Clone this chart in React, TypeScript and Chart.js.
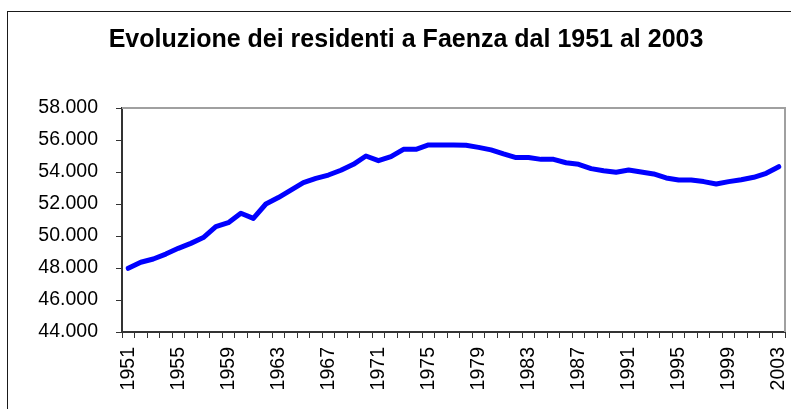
import React, { useEffect, useRef } from "react";
import { Chart, registerables } from "chart.js";

Chart.register(...registerables);

const years: string[] = [];
for (let y = 1951; y <= 2003; y++) years.push(String(y));

const residents: number[] = [
  47980, 48360, 48560, 48870, 49230, 49540, 49900, 50580, 50830, 51420,
  51100, 52000, 52400, 52870, 53330, 53600, 53810, 54110, 54480, 55000,
  54710, 54960, 55420, 55420, 55690, 55690, 55690, 55670, 55540, 55380,
  55130, 54900, 54900, 54790, 54790, 54580, 54480, 54210, 54080, 53980,
  54120, 54000, 53880, 53630, 53500, 53500, 53400, 53250, 53400, 53520,
  53670, 53920, 54330,
];

const titleText = "Evoluzione dei residenti a Faenza dal 1951 al 2003";
const yMin = 44000;
const yMax = 58000;
const yStep = 2000;

function formatThousands(v: number): string {
  const s = Math.round(v).toString();
  return s.replace(/\B(?=(\d{3})+(?!\d))/g, ".");
}

const framePlugin = {
  id: "framePlugin",
  beforeDraw(chart: any) {
    const ctx = chart.ctx;
    ctx.save();
    ctx.fillStyle = "#ffffff";
    ctx.fillRect(0, 0, chart.width, chart.height);
    ctx.strokeStyle = "#1a1a1a";
    ctx.lineWidth = 1;
    ctx.strokeRect(7.5, 11.5, 1000, 1000);
    ctx.fillStyle = "#000000";
    ctx.font = 'bold 25px "Liberation Sans", Arial, sans-serif';
    ctx.textAlign = "center";
    ctx.textBaseline = "alphabetic";
    ctx.fillText(titleText, 406, 47);
    ctx.restore();
  },
  afterDraw(chart: any) {
    const { ctx, chartArea } = chart;
    ctx.save();
    ctx.strokeStyle = "#a0a0a0";
    ctx.lineWidth = 2;
    ctx.beginPath();
    ctx.moveTo(chartArea.left, chartArea.top);
    ctx.lineTo(chartArea.right, chartArea.top);
    ctx.lineTo(chartArea.right, chartArea.bottom);
    ctx.stroke();
    ctx.restore();
  },
};

export default function App() {
  const ref = useRef<HTMLCanvasElement | null>(null);

  useEffect(() => {
    if (!ref.current) return;
    const chart = new Chart(ref.current, {
      type: "line",
      data: {
        labels: years,
        datasets: [
          {
            data: residents,
            borderColor: "#0000ff",
            backgroundColor: "#0000ff",
            borderWidth: 5,
            pointRadius: 0,
            tension: 0,
            borderCapStyle: "round",
            borderJoinStyle: "round",
            fill: false,
          },
        ],
      },
      options: {
        responsive: false,
        animation: false,
        layout: { padding: { top: 108, right: 6, left: 0, bottom: 0 } },
        plugins: {
          legend: { display: false },
          title: { display: false },
          tooltip: { enabled: false },
        },
        scales: {
          x: {
            type: "category",
            offset: true,
            grid: {
              offset: true,
              drawOnChartArea: false,
              drawTicks: true,
              tickLength: 6,
              color: "#333333",
              lineWidth: 1,
            },
            border: { display: true, color: "#333333", width: 2 },
            ticks: {
              autoSkip: false,
              minRotation: 90,
              maxRotation: 90,
              padding: 9,
              color: "#000000",
              font: { family: '"Liberation Sans", Arial, sans-serif', size: 19.5 },
              callback: function (_v: any, i: number) {
                return i % 4 === 0 ? years[i] : "";
              },
            },
            afterFit(scale: any) {
              scale.height = 77;
              scale.paddingLeft = 0;
              scale.paddingRight = 0;
            },
          },
          y: {
            min: yMin,
            max: yMax,
            grid: {
              drawOnChartArea: false,
              drawTicks: true,
              tickLength: 6,
              color: "#333333",
              lineWidth: 1,
            },
            border: { display: true, color: "#333333", width: 2 },
            ticks: {
              stepSize: yStep,
              padding: 18,
              color: "#000000",
              font: { family: '"Liberation Sans", Arial, sans-serif', size: 19.5 },
              callback: (v: any) => formatThousands(Number(v)),
            },
            afterFit(scale: any) {
              scale.width = 122;
            },
          },
        },
      },
      plugins: [framePlugin],
    });
    return () => chart.destroy();
  }, []);

  return (
    <div style={{ position: "fixed", left: 0, top: 0, width: 791, height: 409, background: "#fff" }}>
      <canvas ref={ref} width={791} height={409} style={{ width: 791, height: 409, display: "block" }} />
    </div>
  );
}
